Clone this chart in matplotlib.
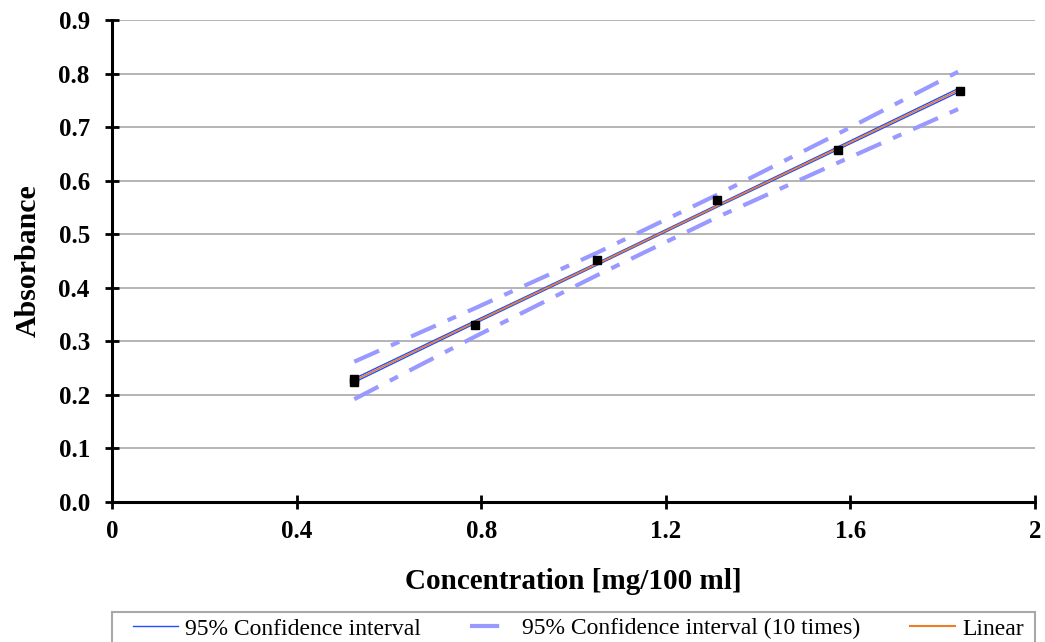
import matplotlib
matplotlib.use("Agg")
import matplotlib.pyplot as plt
from matplotlib.lines import Line2D
from matplotlib.patches import Rectangle

# measured points
conc = [0.525, 0.525, 0.787, 1.050, 1.312, 1.574, 1.837]
absorb = [0.229, 0.224, 0.331, 0.451, 0.563, 0.658, 0.767]

# fitted line and bands, read at the calibration concentrations
fit_x = [0.525, 0.787, 1.050, 1.312, 1.574, 1.837]
fit_y = [0.227, 0.336, 0.444, 0.553, 0.661, 0.770]
ci_hi = [0.2305, 0.3386, 0.4461, 0.5551, 0.6636, 0.7735]
ci_lo = [0.2235, 0.3334, 0.4419, 0.5509, 0.6584, 0.7665]
ci10_hi = [0.262, 0.362, 0.465, 0.574, 0.688, 0.805]
ci10_lo = [0.192, 0.309, 0.423, 0.532, 0.634, 0.735]

xticks = [0, 0.4, 0.8, 1.2, 1.6, 2]
xticklabels = ["0", "0.4", "0.8", "1.2", "1.6", "2"]

plt.rcParams['font.family'] = ['Liberation Serif', 'DejaVu Serif']

fig = plt.figure(figsize=(10.45, 6.42), dpi=100)
ax = fig.add_axes([0.1072, 0.2181, 0.8832, 0.7507])

band_col = '#9999ff'
blue = '#1f4fff'
orange = '#f07c28'
dash = (6.5, 3.1, 2.2, 3.1)
ax.plot(fit_x, ci10_hi, color=band_col, lw=3, dashes=dash, zorder=2)
ax.plot(fit_x, ci10_lo, color=band_col, lw=3, dashes=dash, zorder=2)
ax.plot(fit_x, ci_hi, color=blue, lw=1.0, zorder=3)
ax.plot(fit_x, ci_lo, color=blue, lw=1.0, zorder=3)
ax.plot(fit_x, fit_y, color=orange, lw=1.2, zorder=4)
ax.plot(conc, absorb, 's', color='black', ms=5.5, zorder=5)

ax.set_xlim(0, 2)
ax.set_ylim(0, 0.9)
ax.set_xticks(xticks)
ax.set_xticklabels(xticklabels)
ax.set_yticks([i / 10 for i in range(10)])
ax.set_yticklabels(['%.1f' % (i / 10) for i in range(10)])
ax.yaxis.grid(True, color='#a8a8a8', lw=1.2)
ax.set_axisbelow(True)

for s in ['top', 'right']:
    ax.spines[s].set_visible(False)
for s in ['left', 'bottom']:
    ax.spines[s].set_linewidth(2.2)
ax.tick_params(direction='inout', length=10, width=2, labelsize=18, pad=8)
ax.tick_params(axis='y', pad=11)
for lab in ax.get_xticklabels() + ax.get_yticklabels():
    lab.set_fontweight('bold')

ax.set_xlabel('Concentration [mg/100 ml]', fontsize=21, fontweight='bold', labelpad=18)
ax.set_ylabel('Absorbance', fontsize=21.5, fontweight='bold', labelpad=12)

# legend box runs off the bottom of the figure like in the original
fig.patches.append(Rectangle((112 / 1045, -0.05), 923 / 1045, 0.05 + 30 / 642,
                             transform=fig.transFigure, fill=False,
                             edgecolor='#a8a8a8', lw=1.5))
handles = [Line2D([], [], color=blue, lw=1.0),
           Line2D([], [], color=band_col, lw=3, dashes=(7, 20)),
           Line2D([], [], color=orange, lw=1.5)]
labels = ['95% Confidence interval', '95% Confidence interval (10 times)', 'Linear']
fig.legend(handles, labels, ncol=3, loc='upper left',
           bbox_to_anchor=(133 / 1045, 1 - 618 / 642), frameon=False,
           fontsize=17, handlelength=1.9, handletextpad=0.3,
           columnspacing=2.1, borderpad=0, borderaxespad=0)

fig.savefig('out.png', dpi=100)
